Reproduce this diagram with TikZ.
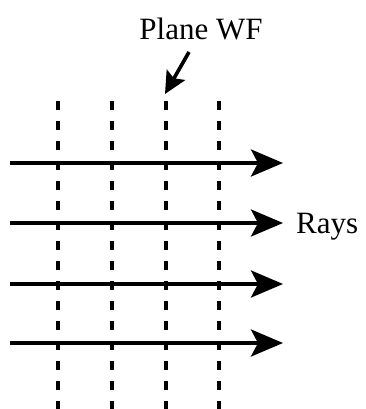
\documentclass[tikz,border=0pt]{standalone}
\usepackage{fontspec}
\setmainfont{Liberation Serif}
\usetikzlibrary{arrows.meta}
\begin{document}
\begin{tikzpicture}[x=1pt,y=1pt,
  wf/.style={line width=3.4pt, dash pattern=on 9pt off 11pt, dash phase=0pt},
  ray/.style={line width=3.6pt, -{Stealth[length=32pt,width=27pt,inset=7pt]}},
  pointer/.style={line width=3.6pt, -{Stealth[length=22pt,width=21pt,inset=4pt]}},
  lbl/.style={font=\fontsize{31}{32}\selectfont, inner sep=0pt}]
\useasboundingbox (0,0) rectangle (365,-409);
% wavefront dashed lines
\foreach \i/\x in {1/58,2/112,3/166,4/219}{
  \coordinate (t\i) at (\x,-101);
  \coordinate (b\i) at (\x,-411);
  \draw[wf] (t\i) -- (b\i);
}
% rays
\foreach \i/\y in {1/163,2/223,3/284,4/343}{
  \coordinate (s\i) at (10,-\y);
  \coordinate (e\i) at (283,-\y);
  \draw[ray] (s\i) -- (e\i);
}
\node[lbl, anchor=base west] (rays) at (296,-233) {Rays};
\node[lbl, anchor=base] (plane) at (201,-40) {Plane WF};
\coordinate (ptail) at (189,-52);
\coordinate (ptip) at (165,-94);
\draw[pointer] (ptail) -- (ptip);
\end{tikzpicture}
\end{document}
